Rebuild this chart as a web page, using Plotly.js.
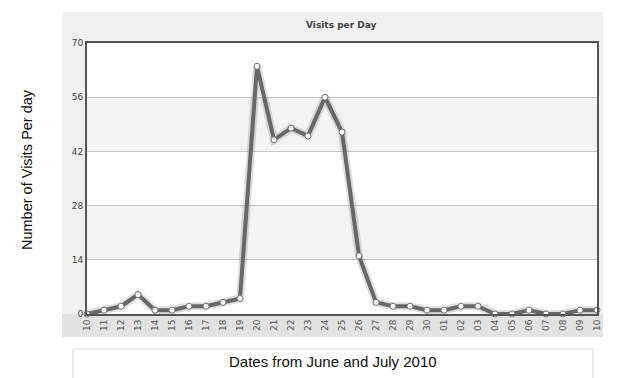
<!DOCTYPE html>
<html>
<head>
<meta charset="utf-8">
<script src="https://cdn.plot.ly/plotly-3.0.1.min.js"></script>
<style>html,body{margin:0;padding:0;background:#fff;}#chart{width:631px;height:378px;}</style>
</head>
<body>
<div id="chart"></div>
<script>
// Dates: June 10–30 and July 01–10, 2010
const dayLabels = ["10","11","12","13","14","15","16","17","18","19","20","21","22","23","24","25","26","27","28","29","30","01","02","03","04","05","06","07","08","09","10"];
const visits = [0,1,2,5,1,1,2,2,3,4,64,45,48,46,56,47,15,3,2,2,1,1,2,2,0,0,1,0,0,1,1];
const yTicks = [0,14,28,42,56,70];
const chartTitle = "Visits per Day";
const yTitle = "Number of Visits Per day";
const xTitle = "Dates from June and July 2010";

const xIdx = dayLabels.map((_, i) => i);

const shadow = {
  x: xIdx, y: visits, type: "scatter", mode: "lines",
  line: {color: "rgba(0,0,0,0.13)", width: 8},
  hoverinfo: "skip", showlegend: false, cliponaxis: false
};
const main = {
  x: xIdx, y: visits, type: "scatter", mode: "lines+markers",
  line: {color: "#686868", width: 4},
  marker: {size: 6, color: "#ffffff", line: {color: "#777", width: 1}},
  hoverinfo: "skip", showlegend: false, cliponaxis: false
};

// alternating bands between grid lines
const bands = [];
for (let i = 1; i < yTicks.length - 1; i += 2) {
  bands.push({type: "rect", xref: "paper", yref: "y", x0: 0, x1: 1, y0: yTicks[i], y1: yTicks[i+1],
    fillcolor: "#f3f3f3", line: {width: 0}, layer: "below"});
}

const L = 87, R = 597, T = 43, B = 314, H = B - T, W = R - L;
const px = v => (v - L) / W;
const py = v => (B - v) / H;

const shapes = [
  {type: "rect", xref: "paper", yref: "paper", x0: px(62), x1: px(603), y0: py(337), y1: py(12),
    fillcolor: "#f1f1f1", line: {width: 0}, layer: "below"},
  {type: "rect", xref: "paper", yref: "paper", x0: px(62), x1: px(603), y0: py(337), y1: py(314),
    fillcolor: "#e2e2e2", line: {width: 0}, layer: "below"},
  {type: "rect", xref: "paper", yref: "paper", x0: px(87), x1: px(597), y0: py(314), y1: py(43),
    fillcolor: "#ffffff", line: {width: 0}, layer: "below"},
  ...bands,
  {type: "rect", xref: "paper", yref: "paper", x0: px(73), x1: px(593), y0: py(390), y1: py(349),
    fillcolor: "#ffffff", line: {color: "#cfdcee", width: 1}, layer: "below"}
];

const layout = {
  width: 631, height: 378,
  margin: {l: L, r: 631 - R, t: T, b: 378 - B, pad: 0},
  paper_bgcolor: "#ffffff", plot_bgcolor: "rgba(0,0,0,0)",
  font: {family: "DejaVu Sans, Verdana, sans-serif", size: 9, color: "#444"},
  showlegend: false, hovermode: false,
  xaxis: {
    range: [0, xIdx.length - 1], tickvals: xIdx, ticktext: dayLabels, tickangle: -90,
    showgrid: false, zeroline: false, showline: true, mirror: true,
    linecolor: "#555", linewidth: 2, ticks: "", ticklen: 0,
    tickfont: {family: "DejaVu Sans, Verdana, sans-serif", size: 9, color: "#555"}
  },
  yaxis: {
    range: [0, 70], tickvals: yTicks, showgrid: true, gridcolor: "#c8c8c8", gridwidth: 1,
    zeroline: false, showline: true, mirror: true, linecolor: "#555", linewidth: 2,
    ticks: "", tickfont: {family: "DejaVu Sans, Verdana, sans-serif", size: 9, color: "#444"}
  },
  shapes: shapes,
  annotations: [
    {text: "<b>" + chartTitle + "</b>", xref: "paper", yref: "paper", x: px(341), y: py(25),
      xanchor: "center", yanchor: "middle",
      showarrow: false, font: {family: "DejaVu Sans, Verdana, sans-serif", size: 9, color: "#444"}},
    {text: yTitle, xref: "paper", yref: "paper", x: px(27), y: py(170), textangle: -90,
      xanchor: "center", yanchor: "middle",
      showarrow: false, font: {family: "Liberation Sans, Arial, sans-serif", size: 14.5, color: "#111"}},
    {text: xTitle, xref: "paper", yref: "paper", x: px(333), y: py(361),
      xanchor: "center", yanchor: "middle",
      showarrow: false, font: {family: "Liberation Sans, Arial, sans-serif", size: 15, color: "#111"}}
  ]
};

Plotly.newPlot("chart", [shadow, main], layout, {displayModeBar: false, staticPlot: true});
</script>
</body>
</html>
